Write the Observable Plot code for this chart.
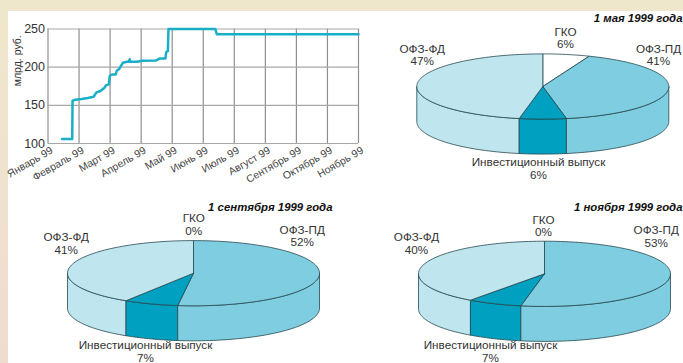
<!DOCTYPE html>
<html lang="ru">
<head>
<meta charset="utf-8">
<script src="https://cdn.jsdelivr.net/npm/d3@7"></script>
<script src="https://cdn.jsdelivr.net/npm/@observablehq/plot@0.6"></script>
<style>
html,body{margin:0;padding:0;width:683px;height:363px;overflow:hidden;background:linear-gradient(180deg,#efe7cb 0%,#efe2cf 50%,#eedcd0 100%)}
#panel{position:absolute;left:8px;top:11px;width:675px;height:352px;background:#fff}
#root svg{position:absolute;background:transparent}
</style>
</head>
<body>
<div id="panel"></div>
<div id="root"></div>
<script>
// ----- line chart data -----
const months = ["Январь 99","Февраль 99","Март 99","Апрель 99","Май 99","Июнь 99","Июль 99","Август 99","Сентябрь 99","Октябрь 99","Ноябрь 99"];
const debtMonth = [0.45,0.78,0.79,0.88,1.09,1.28,1.47,1.56,1.69,1.81,1.88,1.96,1.99,2.06,2.18,2.22,2.29,2.41,2.54,2.61,2.63,2.65,2.87,3.03,3.47,3.59,3.78,3.81,3.86,3.88,5.39,5.44,10];
const debtValue = [106,106,155.7,157.4,158.3,159.6,161.3,167,168.7,172.6,176.5,177.4,188.7,190.4,190.4,195.7,197.4,205.7,207,207,210.4,207,207,208.3,208.7,211.3,211.3,220,220.9,250,250,243,243];
// ----- pie data -----
const sliceNames = ["ГКО","ОФЗ-ПД","Инвестиционный выпуск","ОФЗ-ФД"];
const sharesMay = [6,41,6,47];
const sharesSep = [0,52,7,41];
const sharesNov = [0,53,7,40];
const pieTitles = ["1 мая 1999 года","1 сентября 1999 года","1 ноября 1999 года"];

const sliceColors = ["#ffffff","#7fcde0","#00a0c0","#bfe6ef"];
const edge = "#24474f";
const font = "'Liberation Sans',Arial,sans-serif";
const root = document.getElementById("root");

function place(svg,left,top){svg.style.left=left+"px";svg.style.top=top+"px";root.append(svg);}

// line chart
const lineData = debtMonth.map((m,i)=>({m,v:debtValue[i]}));
place(Plot.plot({
  width:380,height:190,
  marginLeft:47.5,marginRight:22,marginTop:28.5,marginBottom:47,
  style:{fontFamily:font,background:"transparent",overflow:"visible"},
  x:{domain:[0,10],axis:null},
  y:{domain:[100,250],axis:null},
  marks:[
    Plot.gridX(d3.range(0,11),{stroke:"#8f8f8f",strokeOpacity:1,strokeWidth:1.2}),
    Plot.gridY([100,150,200,250],{stroke:"#a8a8a8",strokeOpacity:1,strokeWidth:1.1}),
    Plot.axisX(d3.range(0,11),{tickSize:0,tickPadding:3,tickRotate:-30,tickFormat:i=>months[i],fontSize:10.5,fill:"#444",label:null,dx:4,dy:3}),
    Plot.axisY([100,150,200,250],{tickSize:0,tickPadding:3,fontSize:12.5,fill:"#333",label:null}),
    Plot.text(["млрд. руб."],{frameAnchor:"left",rotate:-90,dx:-30,fontSize:10.5,fill:"#333"}),
    Plot.line(lineData,{x:"m",y:"v",stroke:"#19afc8",strokeWidth:2.5,strokeLinejoin:"round"})
  ]
}),0,0);

// pie as elliptical wedges computed from the shares
function arc(c,f0,f1,ry,rx,dy){
  const n=Math.max(1,Math.ceil((f1-f0)*200)),p=[];
  for(let i=0;i<=n;i++){const a=2*Math.PI*(f0+(f1-f0)*i/n);
    p.push([c[0]+rx*Math.sin(a),c[1]-ry*Math.cos(a)+dy]);}
  return p;
}
function pie(shares,title,box,c,titlePos,labels){
  const rx=126,ry=32.6,depth=35,wall=[],top=[];
  let acc=0;
  shares.forEach((s,i)=>{
    const f0=acc/100,f1=(acc+s)/100;acc+=s;
    const w0=Math.max(f0,.25),w1=Math.min(f1,.75);
    if(w1>w0){
      const a=arc(c,w0,w1,ry,rx,0),b=arc(c,w0,w1,ry,rx,depth).reverse();
      [...a,...b,a[0]].forEach(p=>wall.push({x:p[0],y:p[1],id:i}));
    }
    if(s>0){
      const pts=[c,...arc(c,f0,f1,ry,rx,0),c];
      pts.forEach(p=>top.push({x:p[0],y:p[1],id:i}));
    }
  });
  const fillOf=(rows,i)=>Plot.line(rows.filter(d=>d.id===i),{x:"x",y:"y",fill:sliceColors[i],stroke:edge,strokeWidth:.8,strokeLinejoin:"round"});
  const text=sliceNames.map((n,i)=>({t:n+"\n"+shares[i]+"%",x:labels[i][0],y:labels[i][1]}));
  place(Plot.plot({
    width:box[2],height:box[3],margin:0,
    style:{fontFamily:font,background:"transparent"},
    x:{domain:[box[0],box[0]+box[2]],axis:null},
    y:{domain:[box[1]+box[3],box[1]],axis:null},
    marks:[
      ...[3,2,1].map(i=>fillOf(wall,i)),
      ...[0,1,2,3].map(i=>fillOf(top,i)),
      Plot.text(text,{x:"x",y:"y",text:"t",fontSize:11.7,lineHeight:1.08,fill:"#333"}),
      Plot.text([title],{x:()=>titlePos[0],y:()=>titlePos[1],text:d=>d,textAnchor:"end",fontSize:11.4,fontWeight:"bold",fontStyle:"italic",fill:"#111"})
    ]
  }),box[0],box[1]);
}
pie(sharesMay,pieTitles[0],[380,11,303,179],[542.3,86],[682,18],[[565,37.5],[658,54.5],[538,168],[421.7,54.5]]);
pie(sharesSep,pieTitles[1],[8,190,345,173],[193,272.7],[332,207],[[193.3,224],[301.7,235.3],[145,351],[65.7,243]]);
pie(sharesNov,pieTitles[2],[370,190,313,173],[544,273.3],[682,207],[[543,225.3],[655.7,236],[490,351],[416,243]]);
</script>
</body>
</html>
